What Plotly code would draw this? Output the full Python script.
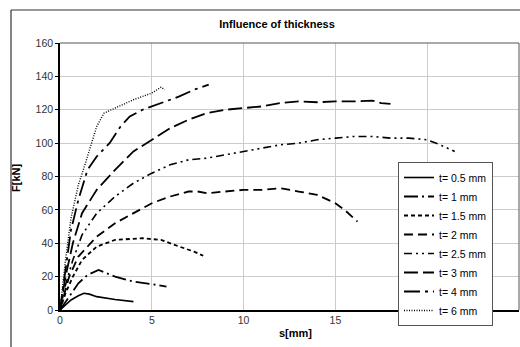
import plotly.graph_objects as go

# Data
names = ["t= 0.5 mm", "t= 1 mm", "t= 1.5 mm", "t= 2 mm", "t= 2.5 mm", "t= 3 mm", "t= 4 mm", "t= 6 mm"]

s_05 = [0, 0.3, 0.6, 1.0, 1.3, 1.6, 2.0, 3.0, 4.0]
f_05 = [0, 3, 6, 8.5, 10, 9.5, 8, 6.3, 5]

s_1 = [0, 0.5, 1.0, 1.5, 2.1, 3.0, 4.0, 5.0, 5.8]
f_1 = [0, 8, 16, 21, 24, 20, 17, 15.5, 14]

s_15 = [0, 0.3, 0.7, 1.2, 2.0, 3.0, 4.5, 5.5, 6.5, 7.3, 7.8]
f_15 = [0, 10, 20, 30, 38, 42, 43, 42, 38, 35, 32.5]

s_2 = [0, 0.5, 1, 2, 3, 4, 5, 6, 7, 7.5, 8, 9, 10, 11, 12, 13, 14, 15, 15.5, 16.2]
f_2 = [0, 20, 32, 44, 52, 58, 64, 68, 71, 71, 70, 71, 72, 72, 73, 71, 69, 64, 60, 53]

s_25 = [0, 0.3, 0.7, 1.2, 2, 3, 4, 5, 6, 7, 8, 9, 10, 11, 12, 13, 14, 15, 16, 17, 18, 19, 20, 20.7, 21.5]
f_25 = [0, 15, 30, 45, 58, 68, 76, 82, 87, 90, 91, 93, 95, 97, 99, 100, 102, 103, 104, 104, 103, 103, 102, 99, 95]

s_3 = [0, 0.3, 0.7, 1.2, 2, 3, 4, 5, 6, 7, 8, 9, 10, 11, 12, 13, 14, 15, 16, 17, 17.5, 18]
f_3 = [0, 20, 40, 58, 72, 84, 95, 102, 109, 114, 118, 120, 121, 122, 124, 125, 124.5, 125, 125, 125.5, 124, 123.5]

s_4 = [0, 0.3, 0.6, 1.0, 1.5, 2.0, 2.7, 3.3, 3.8, 4.5, 5.5, 6.5, 7.3, 8.1]
f_4 = [0, 25, 48, 66, 84, 92, 100, 110, 116, 120, 124, 128, 132, 135]

s_6 = [0, 0.3, 0.6, 1.0, 1.3, 1.7, 2.0, 2.4, 3.0, 4.0, 5.0, 5.5, 5.7]
f_6 = [0, 30, 55, 75, 85, 100, 110, 118, 121, 126, 130, 133.5, 132]

xs = [s_05, s_1, s_15, s_2, s_25, s_3, s_4, s_6]
ys = [f_05, f_1, f_15, f_2, f_25, f_3, f_4, f_6]
dashes = ["solid", "14px,4px,2px,4px", "4px,3px", "9px,5px", "8px,4px,2px,4px,2px,4px",
          "14px,5px", "16px,5px,3px,5px", "1px,1.5px"]
widths = [1.6, 1.8, 1.8, 1.8, 1.6, 1.8, 1.8, 1.4]

x_ticks = [0, 5, 10, 15, 20, 25]
y_ticks = [0, 20, 40, 60, 80, 100, 120, 140, 160]

fig = go.Figure()
for n, x, y, d, w in zip(names, xs, ys, dashes, widths):
    fig.add_trace(go.Scatter(x=x, y=y, name=n, mode="lines",
                             line=dict(color="black", dash=d, width=w)))

font = "Liberation Sans, Arial, sans-serif"
W, H = 520, 347
L, R, T, B = 60, 1, 43, 37
pw, ph = W - L - R, H - T - B

fig.update_layout(
    width=W, height=H,
    margin=dict(l=L, r=R, t=T, b=B),
    paper_bgcolor="white", plot_bgcolor="white",
    font=dict(family=font, size=11, color="#222"),
    title=dict(text="<b>Influence of thickness</b>", x=277 / W, xref="container",
               y=1 - 24 / H, yref="container", xanchor="center", yanchor="middle",
               font=dict(size=11, color="black", family=font)),
    xaxis=dict(range=[0, 25], tickvals=x_ticks, showgrid=True, gridcolor="#cccccc",
               gridwidth=1, zeroline=False, showline=True, linecolor="black", linewidth=1.5,
               ticks="", tickfont=dict(size=10.5, color="#333")),
    yaxis=dict(range=[0, 160], tickvals=y_ticks, showgrid=True, gridcolor="#cccccc",
               gridwidth=1, zeroline=False, showline=True, linecolor="black", linewidth=1.5,
               ticks="outside", ticklen=3, tickcolor="black", tickfont=dict(size=10.5, color="#333")),
    legend=dict(x=(398 - L) / pw, y=(H - B - 162) / ph, xanchor="left", yanchor="top",
                bgcolor="white", bordercolor="#555", borderwidth=1,
                font=dict(size=10.5, color="black", family=font),
                itemwidth=30, tracegroupgap=0),
    showlegend=True,
)

# axis titles
fig.add_annotation(text="<b>s[mm]</b>", xref="paper", yref="paper",
                   x=(295 - L) / pw, y=-(333 - (H - B)) / ph, showarrow=False,
                   font=dict(size=11, color="black", family=font), xanchor="center", yanchor="middle")
fig.add_annotation(text="<b>F[kN]</b>", xref="paper", yref="paper",
                   x=(16 - L) / pw, y=(H - B - 178) / ph, showarrow=False, textangle=-90,
                   font=dict(size=11, color="black", family=font), xanchor="center", yanchor="middle")

# plot-area frame (top and right)
fig.add_shape(type="line", xref="paper", yref="paper", x0=0, x1=1, y0=1, y1=1,
              line=dict(color="#555", width=1))
fig.add_shape(type="line", xref="paper", yref="paper", x0=1, x1=1, y0=0, y1=1,
              line=dict(color="#555", width=1))
# outer chart border (left and top)
fig.add_shape(type="line", xref="paper", yref="paper",
              x0=(11 - L) / pw, x1=(11 - L) / pw, y0=-(H - (H - B)) / ph - 0.01, y1=(H - B - 10) / ph,
              line=dict(color="#333", width=1.2))
fig.add_shape(type="line", xref="paper", yref="paper",
              x0=(11 - L) / pw, x1=(W - L + 5) / pw, y0=(H - B - 10) / ph, y1=(H - B - 10) / ph,
              line=dict(color="#333", width=1.2))

fig.write_html("out.html")
